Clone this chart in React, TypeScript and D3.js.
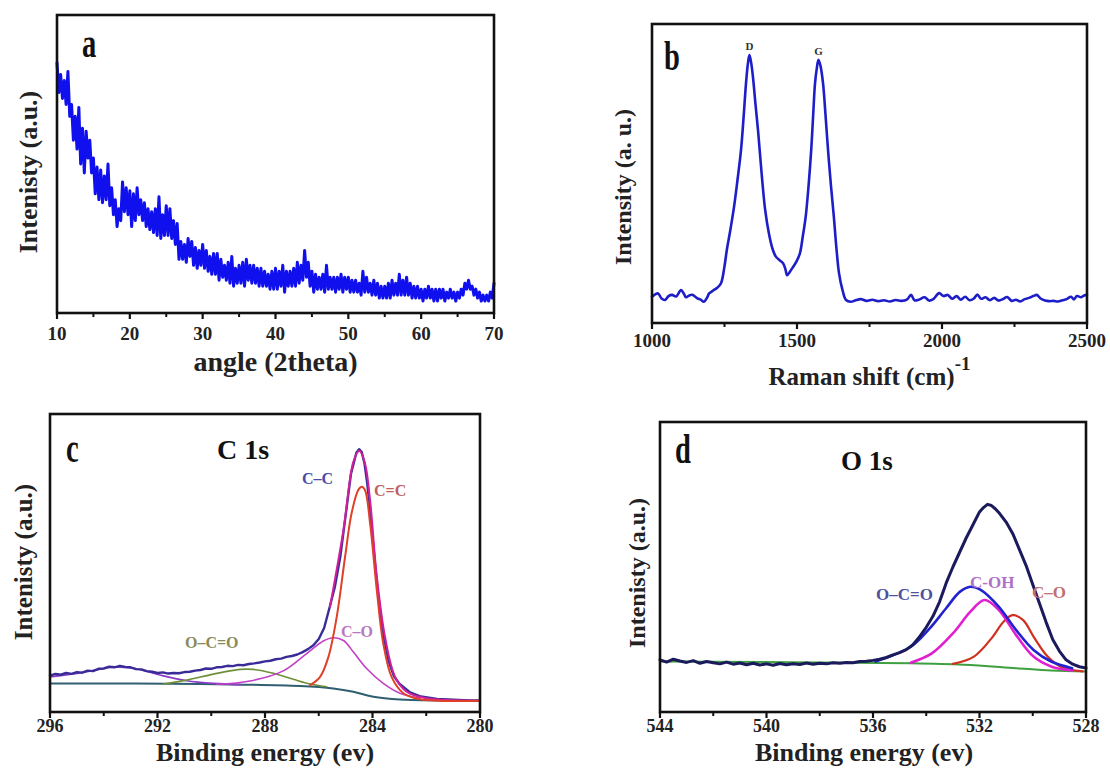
import React from 'react';
import * as d3 from 'd3';

// ---------------- DATA ----------------
// (a) XRD, scan from 10° in 0.25° steps
const xrdStart = 10;
const xrdStep = 0.25;
const xrdIntensity = [
  0.84, 0.74, 0.80, 0.72, 0.78, 0.70, 0.81, 0.66, 0.70, 0.58, 0.66, 0.55,
  0.69, 0.50, 0.62, 0.47, 0.61, 0.52, 0.58, 0.47, 0.52, 0.40, 0.49, 0.38,
  0.48, 0.37, 0.46, 0.38, 0.50, 0.36, 0.42, 0.33, 0.38, 0.29, 0.35, 0.31,
  0.44, 0.34, 0.42, 0.33, 0.41, 0.29, 0.40, 0.31, 0.42, 0.33, 0.38, 0.31,
  0.37, 0.29, 0.35, 0.28, 0.34, 0.27, 0.35, 0.26, 0.39, 0.25, 0.33, 0.26,
  0.36, 0.26, 0.35, 0.25, 0.31, 0.23, 0.30, 0.18, 0.24, 0.18, 0.23, 0.17,
  0.25, 0.19, 0.24, 0.16, 0.22, 0.15, 0.21, 0.16, 0.23, 0.15, 0.21, 0.14,
  0.19, 0.13, 0.20, 0.13, 0.20, 0.11, 0.18, 0.12, 0.16, 0.11, 0.17, 0.10,
  0.19, 0.09, 0.15, 0.10, 0.16, 0.10, 0.17, 0.09, 0.18, 0.11, 0.16, 0.10,
  0.16, 0.10, 0.15, 0.09, 0.15, 0.09, 0.14, 0.09, 0.13, 0.08, 0.14, 0.08,
  0.15, 0.08, 0.14, 0.09, 0.16, 0.07, 0.14, 0.09, 0.14, 0.09, 0.15, 0.09,
  0.17, 0.10, 0.16, 0.11, 0.21, 0.12, 0.17, 0.09, 0.14, 0.07, 0.13, 0.08,
  0.12, 0.08, 0.13, 0.07, 0.16, 0.08, 0.12, 0.08, 0.12, 0.07, 0.12, 0.08,
  0.13, 0.07, 0.12, 0.08, 0.12, 0.07, 0.11, 0.07, 0.11, 0.07, 0.10, 0.06,
  0.14, 0.07, 0.12, 0.07, 0.10, 0.06, 0.11, 0.06, 0.10, 0.05, 0.09, 0.05,
  0.09, 0.05, 0.10, 0.05, 0.11, 0.06, 0.10, 0.06, 0.13, 0.06, 0.11, 0.06,
  0.12, 0.06, 0.10, 0.05, 0.09, 0.05, 0.09, 0.05, 0.08, 0.04, 0.08, 0.05,
  0.09, 0.05, 0.08, 0.04, 0.08, 0.04, 0.08, 0.05, 0.08, 0.04, 0.07, 0.05,
  0.08, 0.05, 0.07, 0.04, 0.07, 0.05, 0.08, 0.06, 0.10, 0.08, 0.11, 0.08,
  0.09, 0.06, 0.08, 0.05, 0.07, 0.04, 0.06, 0.04, 0.06, 0.04, 0.07, 0.05,
  0.10,
];
const xrdTicks = [10, 20, 30, 40, 50, 60, 70];
const xrdMinor = [15, 25, 35, 45, 55, 65];

// (b) Raman
const ramanShift = [
  1000, 1010, 1021, 1033, 1045, 1057, 1069, 1083, 1100, 1110, 1117, 1130, 1141, 1155, 1168, 1179,
  1190, 1197, 1210, 1225, 1238, 1250, 1258, 1270, 1283, 1295, 1307, 1316, 1324, 1331, 1336, 1342,
  1348, 1357, 1366, 1379, 1390, 1403, 1415, 1427, 1440, 1452, 1460, 1466, 1476, 1486, 1498, 1510,
  1520, 1530, 1540, 1549, 1556, 1562, 1568, 1574, 1581, 1590, 1598, 1607, 1617, 1627, 1636, 1645,
  1657, 1669, 1686, 1700, 1720, 1740, 1760, 1780, 1800, 1820, 1840, 1860, 1880, 1893, 1905, 1920,
  1940, 1955, 1970, 1990, 2005, 2020, 2035, 2050, 2065, 2080, 2095, 2110, 2122, 2135, 2150, 2165,
  2180, 2195, 2210, 2225, 2240, 2255, 2270, 2285, 2300, 2315, 2327, 2340, 2355, 2370, 2385, 2400,
  2415, 2430, 2445, 2455, 2465, 2480, 2490, 2500,
];
const ramanIntensity = [
  0.088, 0.095, 0.099, 0.082, 0.077, 0.090, 0.094, 0.089, 0.110, 0.098, 0.086, 0.093, 0.094, 0.083, 0.078, 0.071,
  0.085, 0.099, 0.108, 0.118, 0.133, 0.190, 0.244, 0.310, 0.389, 0.480, 0.579, 0.690, 0.800, 0.870, 0.896, 0.870,
  0.824, 0.730, 0.640, 0.489, 0.380, 0.300, 0.250, 0.222, 0.210, 0.200, 0.180, 0.160, 0.172, 0.187, 0.205, 0.233,
  0.290, 0.356, 0.460, 0.579, 0.700, 0.800, 0.850, 0.880, 0.860, 0.800, 0.700, 0.579, 0.460, 0.356, 0.250, 0.166,
  0.110, 0.077, 0.071, 0.075, 0.080, 0.074, 0.078, 0.073, 0.076, 0.072, 0.077, 0.074, 0.079, 0.094, 0.076, 0.078,
  0.086, 0.075, 0.080, 0.100, 0.090, 0.094, 0.081, 0.090, 0.078, 0.088, 0.076, 0.082, 0.095, 0.081, 0.086, 0.076,
  0.084, 0.075, 0.080, 0.087, 0.074, 0.078, 0.072, 0.080, 0.084, 0.090, 0.094, 0.082, 0.075, 0.073, 0.074, 0.072,
  0.076, 0.080, 0.088, 0.079, 0.090, 0.086, 0.092, 0.094,
];
const ramanTicks = [1000, 1500, 2000, 2500];
const ramanMinor = [1250, 1750, 2250];

// (c) XPS C 1s  [binding energy eV, intensity]
const c1sRaw: [number, number][] = [
  [296.0, 0.122], [295.8, 0.128], [295.6, 0.125], [295.4, 0.131], [295.2, 0.128], [295.0, 0.134],
  [294.8, 0.132], [294.6, 0.139], [294.4, 0.137], [294.2, 0.145], [294.0, 0.146], [293.8, 0.152],
  [293.6, 0.150], [293.4, 0.155], [293.2, 0.151], [293.0, 0.150], [292.8, 0.144], [292.6, 0.143],
  [292.4, 0.137], [292.2, 0.135], [292.0, 0.131], [291.8, 0.133], [291.6, 0.129], [291.4, 0.131],
  [291.2, 0.130], [291.0, 0.134], [290.8, 0.135], [290.6, 0.139], [290.4, 0.141], [290.2, 0.146],
  [290.0, 0.145], [289.8, 0.150], [289.6, 0.151], [289.4, 0.155], [289.2, 0.154], [289.0, 0.158],
  [288.8, 0.157], [288.6, 0.161], [288.4, 0.163], [288.2, 0.166], [288.0, 0.170], [287.8, 0.172],
  [287.6, 0.177], [287.4, 0.179], [287.2, 0.185], [287.0, 0.188], [286.8, 0.193], [286.6, 0.201],
  [286.4, 0.211], [286.2, 0.224], [286.0, 0.245], [285.8, 0.282], [285.6, 0.350], [285.4, 0.420],
  [285.2, 0.520], [285.0, 0.660], [284.8, 0.800], [284.6, 0.870], [284.5, 0.882], [284.4, 0.872],
  [284.3, 0.835], [284.2, 0.770], [284.1, 0.690], [284.0, 0.585], [283.8, 0.400], [283.6, 0.260],
  [283.4, 0.170], [283.2, 0.120], [283.0, 0.095], [282.6, 0.066], [282.2, 0.052], [281.6, 0.044],
  [281.0, 0.041], [280.4, 0.039], [280.0, 0.038],
];
const c1sFitTail: [number, number][] = [
  [285.58, 0.353], [285.08, 0.611], [284.71, 0.840], [284.49, 0.877], [284.28, 0.835], [284.09, 0.710],
  [283.84, 0.455], [283.53, 0.250], [283.16, 0.118], [282.73, 0.068], [281.99, 0.046], [280.0, 0.038],
];
const c1sCeqC: [number, number][] = [
  [286.32, 0.090], [285.95, 0.118], [285.64, 0.185], [285.33, 0.320], [285.02, 0.521], [284.78, 0.666],
  [284.53, 0.745], [284.40, 0.756], [284.28, 0.745], [284.09, 0.633], [283.84, 0.409], [283.60, 0.230],
  [283.29, 0.118], [282.85, 0.063], [282.23, 0.043], [280.0, 0.038],
];
const c1sCO: [number, number][] = [
  [289.80, 0.093], [288.56, 0.104], [287.32, 0.138], [286.45, 0.196], [285.83, 0.238], [285.46, 0.249],
  [285.08, 0.240], [284.71, 0.201], [284.21, 0.145], [283.60, 0.096], [282.98, 0.063], [282.23, 0.046],
];
const c1sOCO: [number, number][] = [
  [291.78, 0.094], [290.91, 0.107], [289.92, 0.127], [288.93, 0.143], [288.43, 0.143], [287.69, 0.130],
  [286.95, 0.110], [286.32, 0.094], [285.71, 0.085],
];
const c1sSatellite: [number, number][] = [
  [296.0, 0.118], [294.76, 0.133], [293.64, 0.150], [292.9, 0.147], [291.91, 0.124], [290.91, 0.105],
  [289.92, 0.096], [288.93, 0.092],
];
const c1sBackground: [number, number][] = [
  [296.0, 0.096], [290.4, 0.094], [286.7, 0.087], [285.46, 0.079], [284.71, 0.068], [283.97, 0.051],
  [282.98, 0.042], [280.0, 0.038],
];
const c1sTicks = [296, 292, 288, 284, 280];
const c1sMinor = [294, 290, 286, 282];

// (d) XPS O 1s
const o1sRaw: [number, number][] = [
  [544.0, 0.180], [543.75, 0.172], [543.5, 0.182], [543.25, 0.176], [543.0, 0.171], [542.75, 0.177],
  [542.5, 0.168], [542.25, 0.174], [542.0, 0.170], [541.75, 0.166], [541.5, 0.172], [541.25, 0.165],
  [541.0, 0.169], [540.75, 0.163], [540.5, 0.168], [540.25, 0.162], [540.0, 0.166], [539.75, 0.161],
  [539.5, 0.167], [539.25, 0.163], [539.0, 0.166], [538.75, 0.164], [538.5, 0.169], [538.25, 0.165],
  [538.0, 0.168], [537.75, 0.166], [537.5, 0.170], [537.25, 0.168], [537.0, 0.171], [536.75, 0.170],
  [536.5, 0.174], [536.25, 0.175], [536.0, 0.178], [535.75, 0.182], [535.5, 0.188], [535.25, 0.197],
  [535.0, 0.205], [534.75, 0.215], [534.5, 0.232], [534.25, 0.260], [534.0, 0.292], [533.75, 0.330],
  [533.5, 0.380], [533.25, 0.445], [533.0, 0.500], [532.75, 0.550], [532.5, 0.600], [532.25, 0.645],
  [532.0, 0.690], [531.85, 0.705], [531.7, 0.716], [531.55, 0.712], [531.4, 0.700], [531.25, 0.685],
  [531.0, 0.655], [530.75, 0.615], [530.5, 0.560], [530.25, 0.505], [530.0, 0.440], [529.75, 0.375],
  [529.5, 0.310], [529.25, 0.250], [529.0, 0.210], [528.75, 0.180], [528.5, 0.165], [528.25, 0.156],
  [528.0, 0.152],
];
const o1sOCO: [number, number][] = [
  [535.9, 0.174], [534.58, 0.225], [533.92, 0.283], [533.26, 0.357], [532.73, 0.415], [532.34, 0.432],
  [531.94, 0.420], [531.28, 0.363], [530.63, 0.283], [529.97, 0.214], [529.31, 0.174], [528.52, 0.151],
];
const o1sCOH: [number, number][] = [
  [534.58, 0.170], [533.79, 0.202], [533.0, 0.271], [532.34, 0.346], [531.81, 0.386], [531.28, 0.352],
  [530.63, 0.266], [529.97, 0.191], [529.31, 0.157], [528.52, 0.143],
];
const o1sCO: [number, number][] = [
  [533.0, 0.166], [532.21, 0.191], [531.55, 0.254], [531.09, 0.312], [530.76, 0.334], [530.36, 0.317],
  [529.97, 0.260], [529.44, 0.191], [528.91, 0.154], [528.13, 0.140],
];
const o1sBackground: [number, number][] = [
  [544.0, 0.174], [534.58, 0.168], [532.6, 0.163], [530.63, 0.151], [529.31, 0.143], [528.0, 0.140],
];
const o1sTicks = [544, 540, 536, 532, 528];
const o1sMinor = [542, 538, 534, 530];

// ---------------- DRAWING ----------------
const FONT = "'Liberation Serif', 'Times New Roman', serif";

type Frame = { l: number; r: number; t: number; b: number };
type Series = { pts: [number, number][]; color: string; width: number; smooth?: boolean };

function Axes({ f, x, ticks, minor, labelY, size }: { f: Frame; x: d3.ScaleLinear<number, number>; ticks: number[]; minor: number[]; labelY: number; size: number }) {
  return (
    <g>
      {ticks.map((t) => (
        <line key={'M' + t} x1={x(t)} x2={x(t)} y1={f.b} y2={f.b + 6} stroke="#111" strokeWidth={2.2} />
      ))}
      {minor.map((t) => (
        <line key={'m' + t} x1={x(t)} x2={x(t)} y1={f.b} y2={f.b + 4} stroke="#111" strokeWidth={2} />
      ))}
      {ticks.map((t) => (
        <text key={'L' + t} x={x(t)} y={labelY} textAnchor="middle" fontFamily={FONT} fontWeight="bold" fontSize={size} fill="#222">
          {t}
        </text>
      ))}
      <rect x={f.l} y={f.t} width={f.r - f.l} height={f.b - f.t} fill="none" stroke="#111" strokeWidth={2.6} />
    </g>
  );
}

function Lines({ series, x, y }: { series: Series[]; x: d3.ScaleLinear<number, number>; y: d3.ScaleLinear<number, number> }) {
  return (
    <g fill="none" strokeLinejoin="round" strokeLinecap="round">
      {series.map((s, i) => {
        const gen = d3
          .line<[number, number]>()
          .x((d) => x(d[0]))
          .y((d) => y(d[1]))
          .curve(s.smooth ? d3.curveCatmullRom : d3.curveLinear);
        return <path key={i} d={gen(s.pts) || ''} stroke={s.color} strokeWidth={s.width} />;
      })}
    </g>
  );
}

function PanelLetter({ x, y, ch }: { x: number; y: number; ch: string }) {
  return (
    <text transform={`translate(${x},${y}) scale(0.68,1)`} fontFamily={FONT} fontWeight="bold" fontSize={42} fill="#111">
      {ch}
    </text>
  );
}

function YTitle({ x, y, text, size }: { x: number; y: number; text: string; size: number }) {
  return (
    <text transform={`translate(${x},${y}) rotate(-90)`} textAnchor="middle" fontFamily={FONT} fontWeight="bold" fontSize={size} fill="#222">
      {text}
    </text>
  );
}

export default function App() {
  // panel a
  const fa: Frame = { l: 57, r: 494, t: 15, b: 313 };
  const xa = d3.scaleLinear().domain([10, 70]).range([fa.l, fa.r]);
  const ya = d3.scaleLinear().domain([0, 1]).range([fa.b, fa.t]);
  const xrdPts: [number, number][] = xrdIntensity.map((v, i) => [xrdStart + i * xrdStep, v]);

  // panel b
  const fb: Frame = { l: 652, r: 1087, t: 24, b: 323 };
  const xb = d3.scaleLinear().domain([1000, 2500]).range([fb.l, fb.r]);
  const yb = d3.scaleLinear().domain([0, 1]).range([fb.b, fb.t]);
  const ramanPts: [number, number][] = ramanShift.map((s, i) => [s, ramanIntensity[i]]);

  // panel c
  const fc: Frame = { l: 50, r: 480, t: 414, b: 712 };
  const xc = d3.scaleLinear().domain([296, 280]).range([fc.l, fc.r]);
  const yc = d3.scaleLinear().domain([0, 1]).range([fc.b, fc.t]);

  // panel d
  const fd: Frame = { l: 660, r: 1086, t: 422, b: 712 };
  const xd = d3.scaleLinear().domain([544, 528]).range([fd.l, fd.r]);
  const yd = d3.scaleLinear().domain([0, 1]).range([fd.b, fd.t]);

  return (
    <svg width={1110} height={769} style={{ position: 'absolute', left: 0, top: 0, background: '#fff' }}>
      <rect width={1110} height={769} fill="#fff" />

      {/* ---- a ---- */}
      <Lines x={xa} y={ya} series={[{ pts: xrdPts, color: '#1010ee', width: 3 }]} />
      <Axes f={fa} x={xa} ticks={xrdTicks} minor={xrdMinor} labelY={340} size={19} />
      <PanelLetter x={82} y={57} ch="a" />
      <text x={(fa.l + fa.r) / 2} y={371} textAnchor="middle" fontFamily={FONT} fontWeight="bold" fontSize={28} fill="#222">
        angle (2theta)
      </text>
      <YTitle x={37} y={172} text="Intenisty (a.u.)" size={26} />

      {/* ---- b ---- */}
      <Lines x={xb} y={yb} series={[{ pts: ramanPts, color: '#1e1ec8', width: 2.6, smooth: true }]} />
      <Axes f={fb} x={xb} ticks={ramanTicks} minor={ramanMinor} labelY={347} size={19} />
      <PanelLetter x={664} y={70} ch="b" />
      <text x={xb(1336)} y={50} textAnchor="middle" fontFamily={FONT} fontWeight="bold" fontSize={11} fill="#333">D</text>
      <text x={xb(1574)} y={55} textAnchor="middle" fontFamily={FONT} fontWeight="bold" fontSize={11} fill="#333">G</text>
      <text x={(fb.l + fb.r) / 2} y={385} textAnchor="middle" fontFamily={FONT} fontWeight="bold" fontSize={25} fill="#222">
        Raman shift (cm)
        <tspan dy={-15} fontSize={19}>-1</tspan>
      </text>
      <YTitle x={631} y={187} text="Intensity (a. u.)" size={24} />

      {/* ---- c ---- */}
      <Lines
        x={xc}
        y={yc}
        series={[
          { pts: c1sBackground, color: '#2f5f70', width: 2, smooth: true },
          { pts: c1sSatellite, color: '#8a3cc8', width: 1.6, smooth: true },
          { pts: c1sOCO, color: '#6f8f3a', width: 1.6, smooth: true },
          { pts: c1sCO, color: '#c040c8', width: 1.6, smooth: true },
          { pts: c1sRaw, color: '#3a2c98', width: 2.4 },
          { pts: c1sFitTail, color: '#d0209a', width: 2, smooth: true },
          { pts: c1sCeqC, color: '#e04028', width: 2, smooth: true },
        ]}
      />
      <Axes f={fc} x={xc} ticks={c1sTicks} minor={c1sMinor} labelY={732} size={18} />
      <PanelLetter x={66} y={462} ch="c" />
      <text x={217} y={459} fontFamily={FONT} fontWeight="bold" fontSize={28} fill="#111">C 1s</text>
      <text x={302} y={484} fontFamily={FONT} fontWeight="bold" fontSize={16} fill="#4a4aa8">C–C</text>
      <text x={374} y={496} fontFamily={FONT} fontWeight="bold" fontSize={16} fill="#c06060">C=C</text>
      <text x={341} y={637} fontFamily={FONT} fontWeight="bold" fontSize={16} fill="#b878c0">C–O</text>
      <text x={185} y={648} fontFamily={FONT} fontWeight="bold" fontSize={16} fill="#8a8a5a">O–C=O</text>
      <text x={(fc.l + fc.r) / 2} y={761} textAnchor="middle" fontFamily={FONT} fontWeight="bold" fontSize={26} fill="#222">
        Binding energy (ev)
      </text>
      <YTitle x={32} y={562} text="Intenisty (a.u.)" size={25} />

      {/* ---- d ---- */}
      <Lines
        x={xd}
        y={yd}
        series={[
          { pts: o1sBackground, color: '#3ea040', width: 2, smooth: true },
          { pts: o1sCO, color: '#d03020', width: 2.2, smooth: true },
          { pts: o1sCOH, color: '#e020d0', width: 2.6, smooth: true },
          { pts: o1sOCO, color: '#2222d0', width: 2.6, smooth: true },
          { pts: o1sRaw, color: '#1a1a5c', width: 3 },
        ]}
      />
      <Axes f={fd} x={xd} ticks={o1sTicks} minor={o1sMinor} labelY={732} size={18} />
      <PanelLetter x={675} y={463} ch="d" />
      <text x={841} y={470} fontFamily={FONT} fontWeight="bold" fontSize={27} fill="#111">O 1s</text>
      <text x={876} y={600} fontFamily={FONT} fontWeight="bold" fontSize={17} fill="#5050a0">O–C=O</text>
      <text x={970} y={588} fontFamily={FONT} fontWeight="bold" fontSize={17} fill="#b070c8">C-OH</text>
      <text x={1032} y={598} fontFamily={FONT} fontWeight="bold" fontSize={17} fill="#c07070">C–O</text>
      <text x={864} y={761} textAnchor="middle" fontFamily={FONT} fontWeight="bold" fontSize={26} fill="#222">
        Binding energy (ev)
      </text>
      <YTitle x={645} y={573} text="Intenisty (a.u.)" size={24} />
    </svg>
  );
}
